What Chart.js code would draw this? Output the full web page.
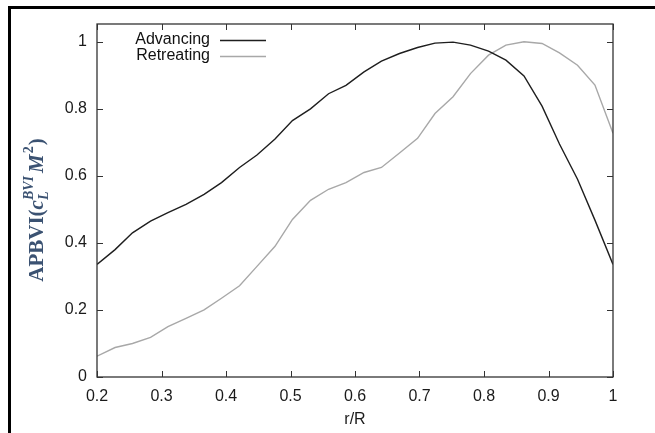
<!DOCTYPE html>
<html>
<head>
<meta charset="utf-8">
<script src="https://cdn.jsdelivr.net/npm/chart.js@4.4.0/dist/chart.umd.min.js"></script>
<style>
  html, body { margin: 0; padding: 0; background: #fff; }
  #wrap { position: relative; width: 655px; height: 433px; overflow: hidden; }
  #frame { position: absolute; left: 8px; top: 6px; width: 700px; height: 500px;
           border-top: 3px solid #000; border-left: 3px solid #000; }
  canvas { position: absolute; left: 0; top: 0; }
</style>
</head>
<body>
<div id="wrap">
  <div id="frame"></div>
  <canvas id="myChart" width="655" height="433"></canvas>
</div>
<script>
// r/R stations
const rR = [0.200, 0.228, 0.255, 0.283, 0.310, 0.338, 0.366, 0.393, 0.421, 0.448,
            0.476, 0.503, 0.531, 0.559, 0.586, 0.614, 0.641, 0.669, 0.697, 0.724,
            0.752, 0.779, 0.807, 0.834, 0.862, 0.890, 0.917, 0.945, 0.972, 1.000];

const advancing = [0.336, 0.380, 0.430, 0.465, 0.490, 0.515, 0.545, 0.580, 0.625, 0.662,
                   0.710, 0.765, 0.800, 0.845, 0.870, 0.910, 0.942, 0.965, 0.983, 0.996,
                   0.999, 0.990, 0.972, 0.945, 0.898, 0.808, 0.695, 0.590, 0.468, 0.336];

const retreating = [0.062, 0.088, 0.100, 0.118, 0.150, 0.175, 0.200, 0.235, 0.272, 0.330,
                    0.390, 0.470, 0.527, 0.560, 0.580, 0.610, 0.625, 0.668, 0.712, 0.786,
                    0.836, 0.905, 0.960, 0.990, 1.000, 0.995, 0.967, 0.930, 0.871, 0.727];

const xTicks = [0.2, 0.3, 0.4, 0.5, 0.6, 0.7, 0.8, 0.9, 1];
const yTicks = [0, 0.2, 0.4, 0.6, 0.8, 1];

const seriesNames = ['Advancing', 'Retreating'];
const seriesColors = ['#1e1e1e', '#a8a8a8'];

const toPoints = (ys) => ys.map((y, i) => ({ x: rR[i], y: y }));

const sans = '"Liberation Sans", Arial, sans-serif';

// frame, inward ticks on all four sides, legend and y title
const decor = {
  id: 'decor',
  afterDraw(chart) {
    const c = chart.ctx;
    const a = chart.chartArea;
    const xs = chart.scales.x, ys = chart.scales.y;
    c.save();
    c.strokeStyle = '#333';
    c.lineWidth = 1.3;
    c.strokeRect(a.left, a.top, a.right - a.left, a.bottom - a.top);
    c.lineWidth = 1;
    const tl = 6;
    c.beginPath();
    xTicks.forEach(v => {
      const px = Math.round(xs.getPixelForValue(v)) + 0.5;
      c.moveTo(px, a.bottom); c.lineTo(px, a.bottom - tl);
      c.moveTo(px, a.top); c.lineTo(px, a.top + tl);
    });
    yTicks.forEach(v => {
      const py = Math.round(ys.getPixelForValue(v)) + 0.5;
      c.moveTo(a.left, py); c.lineTo(a.left + tl, py);
      c.moveTo(a.right, py); c.lineTo(a.right - tl, py);
    });
    c.stroke();

    // legend: text then line sample
    c.font = '16px ' + sans;
    c.textAlign = 'right';
    c.textBaseline = 'middle';
    seriesNames.forEach((n, i) => {
      const y = 40 + i * 16;
      c.fillStyle = '#111';
      c.fillText(n, 210, y);
      c.strokeStyle = seriesColors[i];
      c.lineWidth = 1.3;
      c.beginPath();
      c.moveTo(220, y + 0.5); c.lineTo(266, y + 0.5);
      c.stroke();
    });

    // y title: APBVI(c_L^{BVI} M^2)
    c.translate(36, 210);
    c.rotate(-Math.PI / 2);
    c.fillStyle = '#3b5272';
    c.textAlign = 'left';
    c.textBaseline = 'alphabetic';
    const serif = '"Liberation Serif", "DejaVu Serif", serif';
    const big = 'bold 21px ' + serif;
    const bigIt = 'italic bold 21px ' + serif;
    const small = 'italic bold 14px ' + serif;
    const parts = [
      { t: 'APBVI(', f: big, dy: 0 },
      { t: 'c', f: bigIt, dy: 0 },
      { t: 'L', f: small, dy: 5, keep: true },
      { t: 'BVI', f: small, dy: -10, after: 3 },
      { t: 'M', f: bigIt, dy: 0, after: 1 },
      { t: '2', f: 'bold 14px ' + serif, dy: -10, after: 1 },
      { t: ')', f: big, dy: 0 }
    ];
    let total = 0;
    parts.forEach(p => {
      c.font = p.f; p.w = c.measureText(p.t).width;
      if (!p.keep) total += p.w + (p.after || 0);
    });
    let x = -total / 2;
    parts.forEach(p => {
      c.font = p.f;
      c.fillText(p.t, x, 7 + p.dy);
      if (!p.keep) x += p.w + (p.after || 0);
    });
    c.restore();
  }
};

const ctx = document.getElementById('myChart');

new Chart(ctx, {
  type: 'line',
  data: {
    datasets: [{
      label: seriesNames[0],
      data: toPoints(advancing),
      borderColor: seriesColors[0],
      borderWidth: 1.4,
      pointRadius: 0,
      tension: 0
    }, {
      label: seriesNames[1],
      data: toPoints(retreating),
      borderColor: seriesColors[1],
      borderWidth: 1.4,
      pointRadius: 0,
      tension: 0
    }]
  },
  options: {
    responsive: false,
    animation: false,
    layout: { padding: { top: 24, right: 42, left: 0, bottom: 0 } },
    plugins: {
      legend: { display: false },
      tooltip: { enabled: false }
    },
    scales: {
      x: {
        type: 'linear',
        min: 0.2,
        max: 1,
        afterBuildTicks: s => { s.ticks = xTicks.map(v => ({ value: v })); },
        afterFit: s => { s.height = 433 - 377; },
        grid: { display: false, drawTicks: false },
        border: { display: false },
        ticks: {
          color: '#1a1a1a',
          font: { family: sans, size: 16 },
          padding: 10,
          maxRotation: 0,
          callback: v => String(+v.toFixed(1))
        },
        title: {
          display: true,
          text: 'r/R',
          color: '#1a1a1a',
          font: { family: sans, size: 16 },
          padding: { top: 3 }
        }
      },
      y: {
        min: 0,
        max: 1.053,
        afterBuildTicks: s => { s.ticks = yTicks.map(v => ({ value: v })); },
        afterFit: s => { s.width = 97; },
        grid: { display: false, drawTicks: false },
        border: { display: false },
        ticks: {
          color: '#1a1a1a',
          font: { family: sans, size: 16 },
          padding: 10,
          callback: v => String(+v.toFixed(1))
        }
      }
    }
  },
  plugins: [decor]
});
</script>
</body>
</html>
